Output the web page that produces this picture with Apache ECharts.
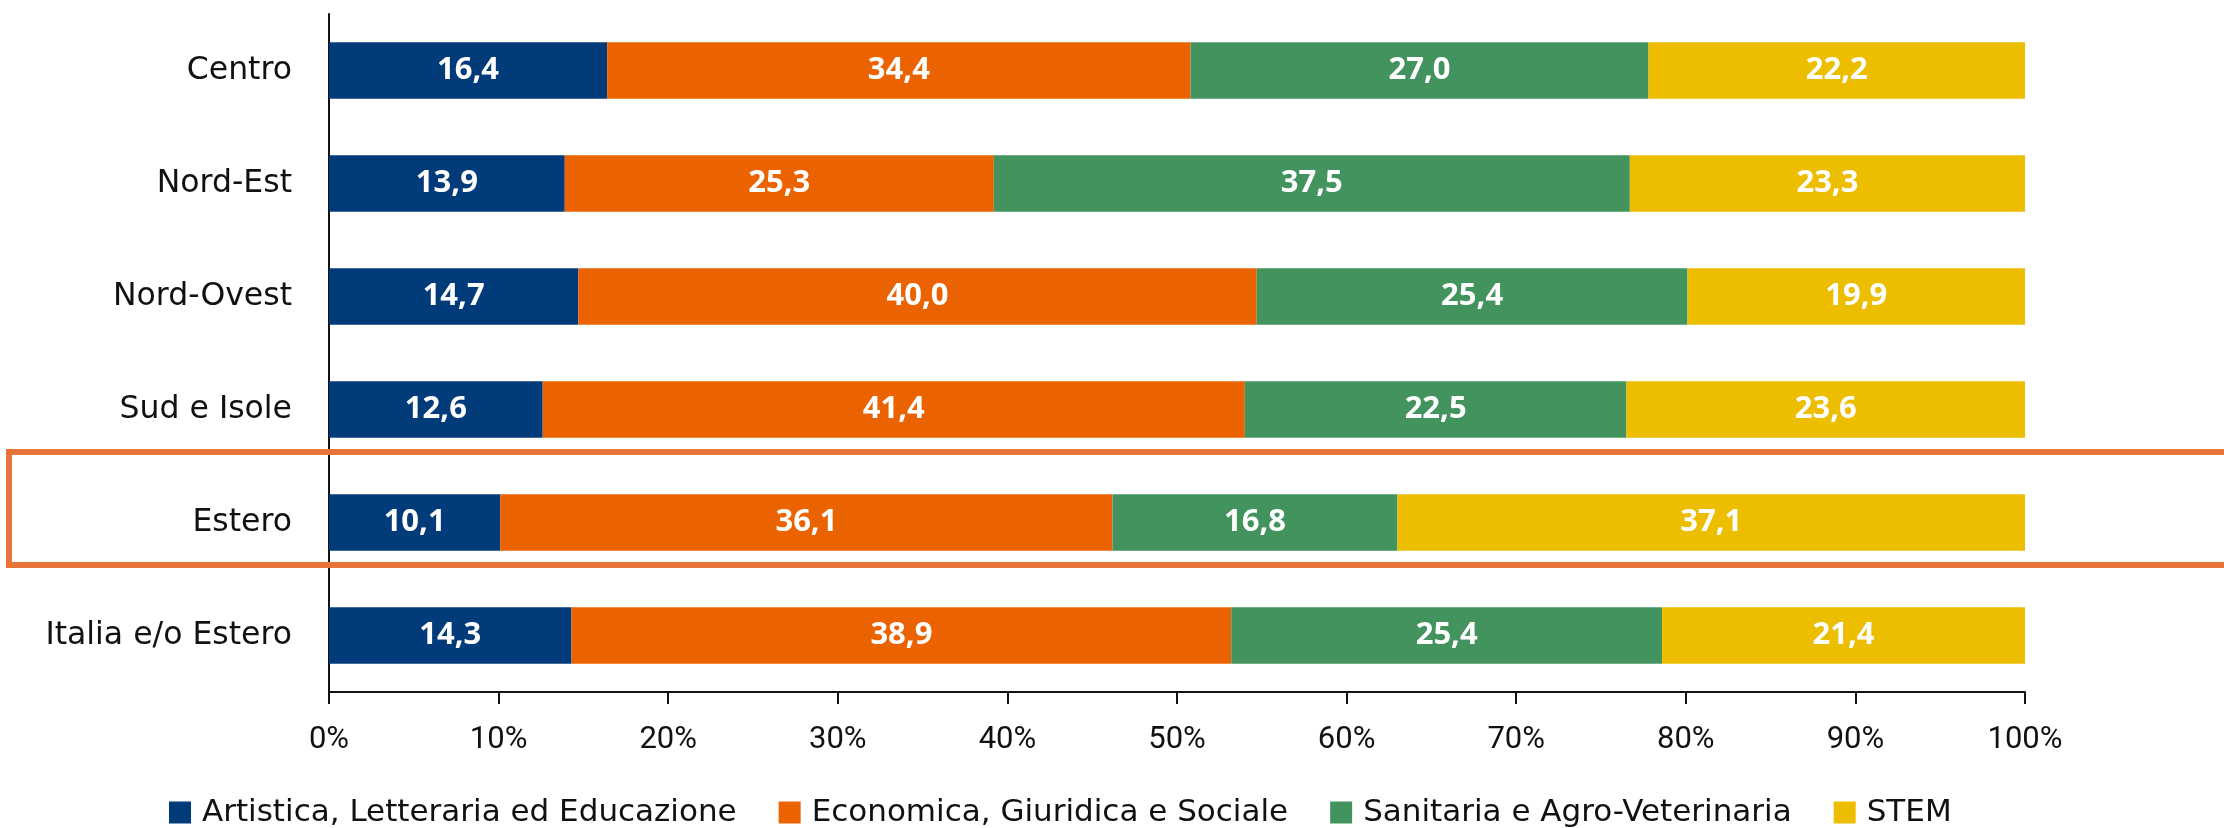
<!DOCTYPE html>
<html>
<head>
<meta charset="utf-8">
<script src="https://cdn.jsdelivr.net/npm/echarts@6/dist/echarts.min.js"></script>
<style>
html,body{margin:0;padding:0;background:#fff;}
#chart{width:2224px;height:828px;}
</style>
</head>
<body>
<div id="chart"></div>
<script>
const categories = ['Centro', 'Nord-Est', 'Nord-Ovest', 'Sud e Isole', 'Estero', 'Italia e/o Estero'];
const seriesNames = ['Artistica, Letteraria ed Educazione', 'Economica, Giuridica e Sociale', 'Sanitaria e Agro-Veterinaria', 'STEM'];
const artistica = [16.4, 13.9, 14.7, 12.6, 10.1, 14.3];
const economica = [34.4, 25.3, 40.0, 41.4, 36.1, 38.9];
const sanitaria = [27.0, 37.5, 25.4, 22.5, 16.8, 25.4];
const stem = [22.2, 23.3, 19.9, 23.6, 37.1, 21.4];
const colors = ['#023B7A', '#EB6300', '#43935F', '#EDBE00'];
const highlighted = 'Estero';

const FONT = 'DejaVu Sans';
const TICK_FONT = 'Roboto';
const BOLD_FONT = 'Open Sans';
const chart = echarts.init(document.getElementById('chart'));
const values = [artistica, economica, sanitaria, stem];

const option = {
  animation: false,
  textStyle: { fontFamily: FONT },
  grid: { left: 329, right: 199, top: 14, bottom: 136 },
  legend: {
    left: 164, top: 792,
    itemWidth: 22, itemHeight: 22, itemGap: 42,
    icon: 'rect',
    textStyle: { fontFamily: FONT, fontSize: 31, color: '#111', padding: [0, 0, 0, 6] },
    data: seriesNames
  },
  xAxis: {
    type: 'value', min: 0, max: 100, interval: 10,
    axisLine: { show: true, lineStyle: { color: '#111', width: 2 } },
    axisTick: { show: true, length: 12, lineStyle: { color: '#111', width: 2 } },
    splitLine: { show: false },
    axisLabel: { formatter: '{value}%', fontFamily: TICK_FONT, fontSize: 31, color: '#111', margin: 33 }
  },
  yAxis: {
    type: 'category', data: categories, inverse: true,
    axisLine: { show: true, lineStyle: { color: '#111', width: 2 } },
    axisTick: { show: false },
    axisLabel: { fontFamily: FONT, fontSize: 31.5, color: '#111', margin: 37 }
  },
  series: seriesNames.map((name, i) => ({
    name, type: 'bar', stack: 'tot', barWidth: '50%',
    itemStyle: { color: colors[i] },
    label: {
      show: true, position: 'inside', color: '#fff',
      fontFamily: BOLD_FONT, fontWeight: 'bold', fontSize: 31,
      formatter: p => p.value.toFixed(1).replace('.', ',')
    },
    data: values[i]
  }))
};
chart.setOption(option);

const cy = chart.convertToPixel({ yAxisIndex: 0 }, highlighted);
const cyPrev = chart.convertToPixel({ yAxisIndex: 0 }, categories[categories.indexOf(highlighted) - 1]);
const band = Math.abs(cy - cyPrev);
chart.setOption({
  graphic: [{
    type: 'rect', z: 100,
    shape: { x: 9, y: cy - band / 2 - 14, width: 2400, height: band },
    style: { fill: 'none', stroke: '#E8743B', lineWidth: 6 }
  }]
});
</script>
</body>
</html>
